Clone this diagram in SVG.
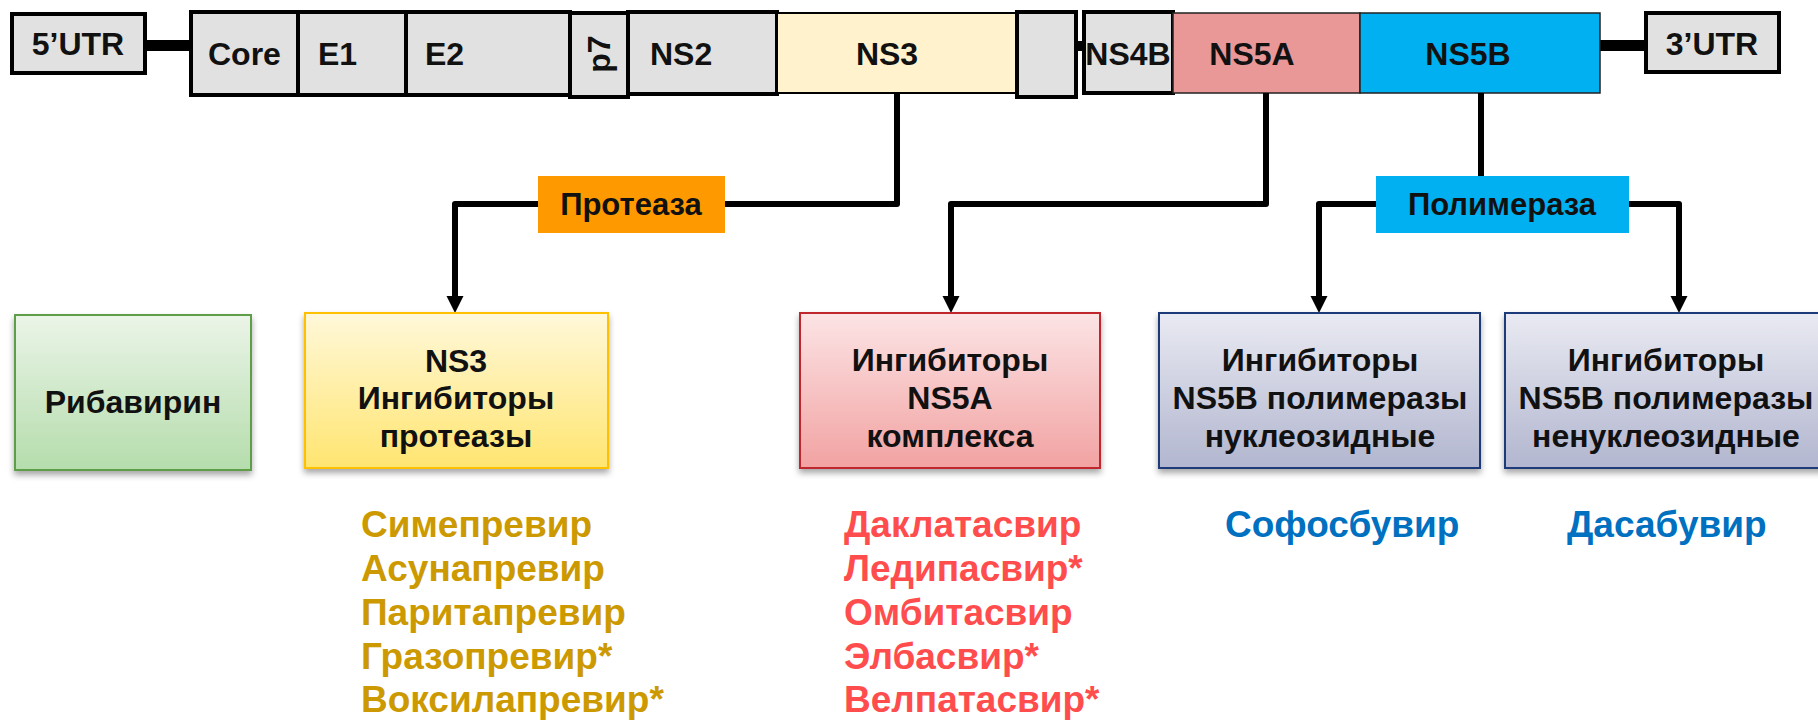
<svg xmlns="http://www.w3.org/2000/svg" width="1818" height="720" viewBox="0 0 1818 720">
<defs>
<style>
.t{font-family:"Liberation Sans",Arial,sans-serif;font-weight:bold;fill:#111}
.top{font-size:32px}
.lbl{font-size:31px}
.box{font-size:32px;text-anchor:middle}
.drug{font-size:37px;font-family:"Liberation Sans",Arial,sans-serif;font-weight:bold}
.seg{stroke:#000;stroke-width:4}
.grey{fill:#E1E1E1}
.conn{fill:none;stroke:#000;stroke-width:6;stroke-linejoin:round}
</style>
<marker id="arr" viewBox="0 0 10 10" refX="0" refY="5" markerWidth="17" markerHeight="18" markerUnits="userSpaceOnUse" orient="auto">
<path d="M0,0 L10,5 L0,10 z" fill="#000"/>
</marker>
<linearGradient id="gGreen" x1="0" y1="0" x2="0" y2="1"><stop offset="0" stop-color="#EBF4E8"/><stop offset="1" stop-color="#B5DDAC"/></linearGradient>
<linearGradient id="gYellow" x1="0" y1="0" x2="0" y2="1"><stop offset="0" stop-color="#FFF8DA"/><stop offset="1" stop-color="#FFE570"/></linearGradient>
<linearGradient id="gRed" x1="0" y1="0" x2="0" y2="1"><stop offset="0" stop-color="#FCE4E5"/><stop offset="1" stop-color="#F2A2A2"/></linearGradient>
<linearGradient id="gBlue" x1="0" y1="0" x2="0" y2="1"><stop offset="0" stop-color="#E9EAF2"/><stop offset="1" stop-color="#B2B6CF"/></linearGradient>
<filter id="sh" x="-10%" y="-10%" width="120%" height="125%">
<feDropShadow dx="0" dy="4" stdDeviation="3" flood-color="#000" flood-opacity="0.35"/>
</filter>
</defs>

<!-- genome bar -->
<g id="connectors-genome">
<rect x="145" y="40" width="46" height="11" fill="#000"/>
<rect x="1076" y="41" width="8" height="10" fill="#000"/>
<rect x="1600" y="40" width="46" height="11" fill="#000"/>
</g>
<g id="utr5"><rect x="12" y="14" width="133" height="59" class="grey seg"/><text x="78" y="55" class="t top" text-anchor="middle">5’UTR</text></g>
<g id="core"><rect x="191" y="12" width="107" height="83" class="grey seg"/><text x="208" y="65" class="t top">Core</text></g>
<g id="e1"><rect x="298" y="12" width="108" height="83" class="grey seg"/><text x="318" y="65" class="t top">E1</text></g>
<g id="e2"><rect x="406" y="12" width="164" height="83" class="grey seg"/><text x="425" y="65" class="t top">E2</text></g>
<g id="p7"><rect x="570" y="13" width="58" height="84" class="grey seg"/><text x="0" y="0" class="t top" text-anchor="middle" transform="translate(610,54) rotate(-90)">p7</text></g>
<g id="ns2"><rect x="628" y="12" width="149" height="82" class="grey seg"/><text x="650" y="65" class="t top">NS2</text></g>
<g id="ns3"><rect x="777" y="13" width="240" height="80" fill="#FFF2CD" stroke="#000" stroke-width="2"/><text x="887" y="65" class="t top" text-anchor="middle">NS3</text></g>
<g id="ns4a"><rect x="1017" y="12" width="59" height="85" class="grey seg"/></g>
<g id="ns4b"><rect x="1084" y="12" width="89" height="81" class="grey seg"/><text x="1128" y="65" class="t top" text-anchor="middle">NS4B</text></g>
<g id="ns5a"><rect x="1173" y="13" width="187" height="80" fill="#EA9797" stroke="#222" stroke-width="1.5"/><text x="1252" y="65" class="t top" text-anchor="middle">NS5A</text></g>
<g id="ns5b"><rect x="1360" y="13" width="240" height="80" fill="#00B0F0" stroke="#222" stroke-width="1.5"/><text x="1468" y="65" class="t top" text-anchor="middle">NS5B</text></g>
<g id="utr3"><rect x="1646" y="13" width="133" height="59" class="grey seg"/><text x="1712" y="55" class="t top" text-anchor="middle">3’UTR</text></g>

<!-- connectors -->
<g id="connectors">
<path class="conn" d="M897,93 V204 H455 V296" marker-end="url(#arr)"/>
<path class="conn" d="M1266,93 V204 H951 V296" marker-end="url(#arr)"/>
<path class="conn" d="M1481,93 V204"/>
<path class="conn" d="M1376,204 H1319 V296" marker-end="url(#arr)"/>
<path class="conn" d="M1629,204 H1679 V296" marker-end="url(#arr)"/>
</g>

<g id="protease"><rect x="538" y="176" width="187" height="57" fill="#FF9900"/><text x="631" y="215" class="t lbl" text-anchor="middle">Протеаза</text></g>
<g id="polymerase"><rect x="1376" y="176" width="253" height="57" fill="#00B0F0"/><text x="1502" y="215" class="t lbl" text-anchor="middle">Полимераза</text></g>

<!-- bottom boxes -->
<g id="ribavirin"><rect x="15" y="315" width="236" height="155" fill="url(#gGreen)" stroke="#5E9E4A" stroke-width="2" filter="url(#sh)"/><text x="133" y="413" class="t box">Рибавирин</text></g>
<g id="ns3-inh"><rect x="305" y="313" width="303" height="155" fill="url(#gYellow)" stroke="#FFC000" stroke-width="2" filter="url(#sh)"/>
<text class="t box" x="456" y="372">NS3</text><text class="t box" x="456" y="409">Ингибиторы</text><text class="t box" x="456" y="447">протеазы</text></g>
<g id="ns5a-inh"><rect x="800" y="313" width="300" height="155" fill="url(#gRed)" stroke="#C0282D" stroke-width="2" filter="url(#sh)"/>
<text class="t box" x="950" y="371">Ингибиторы</text><text class="t box" x="950" y="409">NS5A</text><text class="t box" x="950" y="447">комплекса</text></g>
<g id="ns5b-nuc"><rect x="1159" y="313" width="321" height="155" fill="url(#gBlue)" stroke="#1F3A78" stroke-width="2" filter="url(#sh)"/>
<text class="t box" x="1320" y="371">Ингибиторы</text><text class="t box" x="1320" y="409">NS5B полимеразы</text><text class="t box" x="1320" y="447">нуклеозидные</text></g>
<g id="ns5b-nonnuc"><rect x="1505" y="313" width="322" height="155" fill="url(#gBlue)" stroke="#1F3A78" stroke-width="2" filter="url(#sh)"/>
<text class="t box" x="1666" y="371">Ингибиторы</text><text class="t box" x="1666" y="409">NS5B полимеразы</text><text class="t box" x="1666" y="447">ненуклеозидные</text></g>

<!-- drug lists -->
<g id="protease-drugs" class="drug" fill="#CC9900">
<text x="361" y="537">Симепревир</text>
<text x="361" y="581">Асунапревир</text>
<text x="361" y="625">Паритапревир</text>
<text x="361" y="669">Гразопревир*</text>
<text x="361" y="712">Воксилапревир*</text>
</g>
<g id="ns5a-drugs" class="drug" fill="#FF4D4D">
<text x="844" y="537">Даклатасвир</text>
<text x="844" y="581">Ледипасвир*</text>
<text x="844" y="625">Омбитасвир</text>
<text x="844" y="669">Элбасвир*</text>
<text x="844" y="712">Велпатасвир*</text>
</g>
<g id="nuc-drugs" class="drug" fill="#0070C0"><text x="1225" y="537">Софосбувир</text></g>
<g id="nonnuc-drugs" class="drug" fill="#0070C0"><text x="1567" y="537">Дасабувир</text></g>
</svg>
